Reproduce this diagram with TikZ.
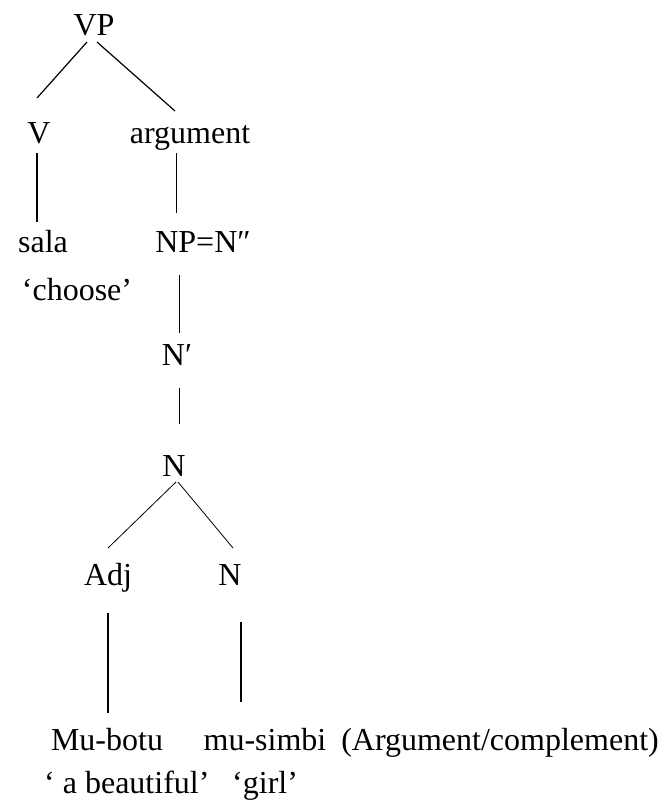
\documentclass[tikz,border=0pt]{standalone}
\usepackage{fontspec}
\setmainfont{Liberation Serif}
\usetikzlibrary{calc}
\begin{document}
\begin{tikzpicture}[x=1pt,y=-1pt,
  lab/.style={inner sep=0pt,anchor=base,font=\fontsize{32}{38}\selectfont},
  labw/.style={lab,anchor=base west},
  labe/.style={lab,anchor=base east},
  branch/.style={line width=1.2pt},
  thin branch/.style={line width=0.8pt}]
\useasboundingbox (0,0) rectangle (662,811);

% tree labels
\node[lab] (vp)   at (94,35)  {VP};
\node[lab] (v)    at (39,143) {V};
\node[lab] (arg)  at (190,143) {argument};
\node[lab] (sala) at (43,252) {sala};
\node[lab] (np)   at (203,252) {NP=N″};
\node[lab] (choose) at (77,300) {‘choose’};
\node[lab] (nbar) at (177,365) {N′};
\node[lab] (n)    at (174,476) {N};
\node[lab] (adj)  at (108,585) {Adj};
\node[lab] (n2)   at (230,585) {N};
\node[lab] (mubotu) at (107,750) {Mu-botu};
\node[lab] (musimbi) at (265,750) {mu-simbi};
\node[labe] (argc) at (659,750) {(Argument/complement)};
\node[labw] (beaut) at (44,793) {‘ a beautiful’};
\node[labw] (girl) at (232,793) {‘girl’};

% branches
\draw[branch] ($(vp.base)+(-7,7)$) -- ($(v.base)+(-2,-45)$);
\draw[branch] ($(vp.base)+(3,7)$) -- ($(arg.base)+(-15,-32)$);
\draw[branch] ($(v.base)+(-2,10)$) -- ($(sala.base)+(-6,-30)$);
\draw[thin branch] ($(arg.base)+(-14,10)$) -- ($(np.base)+(-27,-39)$);
\draw[thin branch] ($(np.base)+(-24,23)$) -- ($(nbar.base)+(2,-32)$);
\draw[thin branch] ($(nbar.base)+(2,23)$) -- ($(n.base)+(5,-52)$);
\draw[thin branch] ($(n.base)+(2,6)$) -- ($(adj.base)+(0,-37)$);
\draw[thin branch] ($(n.base)+(4,6)$) -- ($(n2.base)+(3,-37)$);
\draw[branch] ($(adj.base)+(0,28)$) -- ($(mubotu.base)+(1,-37)$);
\draw[branch] ($(n2.base)+(11,37)$) -- ($(musimbi.base)+(-24,-48)$);
\end{tikzpicture}
\end{document}
